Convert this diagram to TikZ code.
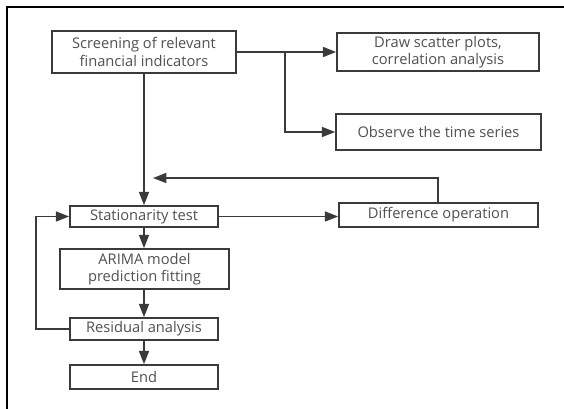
\documentclass[tikz,border=0pt]{standalone}
\usepackage{fontspec}
\setmainfont{Open Sans}
\usetikzlibrary{arrows.meta}
\definecolor{ln}{HTML}{3A3A3A}
\definecolor{tx}{HTML}{505050}
\tikzset{
  box/.style={draw=ln, line width=1.2pt, fill=white, inner sep=0pt, align=center,
    text=tx, font=\fontsize{11}{13}\selectfont},
  conn/.style={draw=ln, line width=1.2pt},
  arr/.style={conn, -{Triangle[length=10pt,width=7.5pt]}},
}
\begin{document}
\begin{tikzpicture}[x=0.75pt,y=-0.75pt]
\useasboundingbox (0,0) rectangle (564,409);
% frame
\draw[black, line width=1.4pt] (7,409) -- (7,7) -- (564,7);
% nodes
\node[box, minimum width={184*0.75pt}, minimum height={42*0.75pt}] (scr) at (144,52) {Screening of relevant\\financial indicators};
\node[box, minimum width={202*0.75pt}, minimum height={38*0.75pt}] (sca) at (438,52) {Draw scatter plots,\\correlation analysis};
\node[box, minimum width={205*0.75pt}, minimum height={36*0.75pt}] (obs) at (438.5,132) {Observe the time series};
\node[box, minimum width={148*0.75pt}, minimum height={21*0.75pt}] (sta) at (144,216.5) {Stationarity test};
\node[box, minimum width={199*0.75pt}, minimum height={24*0.75pt}] (dif) at (438.5,215) {Difference operation};
\node[box, minimum width={169*0.75pt}, minimum height={40*0.75pt}] (ari) at (144.5,269) {ARIMA model\\prediction fitting};
\node[box, minimum width={148*0.75pt}, minimum height={22*0.75pt}] (res) at (144,329) {Residual analysis};
\node[box, minimum width={148*0.75pt}, minimum height={24*0.75pt}] (end) at (144,377) {End};
\coordinate (br) at (285,52);
\coordinate (fb) at (153,178);
\coordinate (lx) at (36,0);
% connectors
\draw[arr] (scr.east) -- (sca.west);
\draw[arr] (br) |- (obs.west);
\draw[arr] (scr.south) -- (sta.north);
\draw[arr] (dif.north -| 438,0) |- (fb);
\draw[arr] (sta.east) -- (sta.east -| dif.west);
\draw[arr] (sta.south) -- (ari.north -| sta.south);
\draw[arr] (ari.south -| res.north) -- (res.north);
\draw[arr] (res.south) -- (end.north);
\draw[arr] (res.west) -- (res.west -| lx) |- (sta.west);
\end{tikzpicture}
\end{document}
